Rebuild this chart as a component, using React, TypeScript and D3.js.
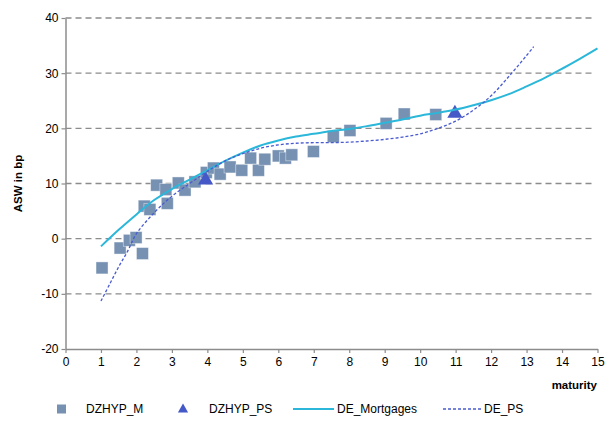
import React, {useEffect, useRef} from 'react';
import * as d3 from 'd3';

// DZHYP_M scatter (maturity, ASW in bp)
const mX = [1.03, 1.54, 1.8, 1.99, 2.17, 2.22, 2.38, 2.57, 2.83, 2.87, 3.18, 3.37, 3.65, 3.97, 4.17, 4.36, 4.64, 4.97, 5.22, 5.44, 5.62, 6.0, 6.2, 6.38, 6.99, 7.55, 8.02, 9.04, 9.55, 10.44];
const mY = [-5.3, -1.7, -0.3, 0.2, -2.7, 5.9, 5.3, 9.7, 8.9, 6.4, 10.1, 8.8, 10.3, 12.0, 12.8, 11.7, 13.0, 12.4, 14.6, 12.4, 14.4, 15.0, 14.6, 15.2, 15.8, 18.5, 19.6, 20.9, 22.6, 22.5];

// DZHYP_PS scatter
const psX = [3.95, 10.98];
const psY = [10.6, 22.7];

// DE_Mortgages curve
const mortX = [1, 1.5, 2, 2.5, 3, 3.5, 4, 4.5, 5, 5.5, 6, 6.5, 7, 7.5, 8, 8.5, 9, 9.5, 10, 10.5, 11, 11.5, 12, 12.5, 13, 13.5, 14, 14.5, 15];
const mortY = [-1.4, 1.6, 4.4, 7.0, 9.0, 10.7, 12.4, 14.1, 15.6, 16.9, 17.8, 18.5, 19.0, 19.5, 19.9, 20.4, 21.0, 21.6, 22.3, 22.8, 23.4, 24.2, 25.1, 26.2, 27.6, 29.1, 30.8, 32.6, 34.5];

// DE_PS curve
const dpsX = [1, 1.25, 1.5, 1.75, 2, 2.5, 3, 3.5, 4, 4.5, 5, 5.5, 6, 6.5, 7, 7.5, 8, 8.5, 9, 9.5, 10, 10.5, 11, 11.5, 12, 12.5, 13, 13.2];
const dpsY = [-11.3, -8.2, -5.1, -2.3, 0.9, 4.7, 7.7, 10.0, 12.2, 14.1, 15.4, 16.4, 17.0, 17.3, 17.4, 17.4, 17.5, 17.7, 18.0, 18.4, 19.0, 20.0, 21.3, 23.3, 25.9, 29.4, 33.2, 34.8];

const xTicks = d3.range(0, 16);
const yTicks = [-20, -10, 0, 10, 20, 30, 40];

const legendItems = ['DZHYP_M', 'DZHYP_PS', 'DE_Mortgages', 'DE_PS'];

const C_SQ = '#7791b2';
const C_TRI = '#4458c8';
const C_MORT = '#2bb7d9';
const C_DPS = '#4a5bd0';
const C_AXIS = '#8c8c8c';

const App: React.FC = () => {
    const svgRef = useRef<SVGSVGElement | null>(null);

    useEffect(() => {
        const svg = d3.select(svgRef.current);
        svg.selectAll('*').remove();

        const x = d3.scaleLinear().domain([0, 15]).range([65.5, 597.5]);
        const y = d3.scaleLinear().domain([-20, 40]).range([349, 18]);
        const font = 'Liberation Sans, Arial, sans-serif';

        // grid
        svg.append('g').selectAll('line')
            .data(yTicks.filter(t => t > -20))
            .enter().append('line')
            .attr('x1', x(0)).attr('x2', 594)
            .attr('y1', d => y(d)).attr('y2', d => y(d))
            .attr('stroke', C_AXIS).attr('stroke-width', 1.3)
            .attr('stroke-dasharray', '6,4');

        // axes
        const xAxis = d3.axisBottom(x).tickValues(xTicks).tickSize(4).tickSizeOuter(0).tickFormat(d => String(d));
        const gx = svg.append('g').attr('transform', `translate(0,${y(-20)})`).call(xAxis);
        const yAxis = d3.axisLeft(y).tickValues(yTicks).tickSize(4).tickSizeOuter(0).tickFormat(d => String(d));
        const gy = svg.append('g').attr('transform', `translate(${x(0)},0)`).call(yAxis);
        [gx, gy].forEach(g => {
            g.select('.domain').attr('stroke', C_AXIS).attr('stroke-width', 1.5);
            g.selectAll('.tick line').attr('stroke', C_AXIS).attr('stroke-width', 1.2);
            g.selectAll('.tick text').attr('fill', '#000').attr('font-size', 12).attr('font-family', font);
        });
        gx.selectAll('.tick text').attr('dy', '0.71em').attr('y', 8);
        gy.selectAll('.tick text').attr('x', -7);

        // axis titles
        svg.append('text')
            .attr('x', 597).attr('y', 389)
            .attr('text-anchor', 'end')
            .attr('font-family', font).attr('font-size', 11.5).attr('font-weight', 'bold')
            .text('maturity');
        svg.append('text')
            .attr('transform', `translate(22,${y(10)}) rotate(-90)`)
            .attr('text-anchor', 'middle')
            .attr('font-family', font).attr('font-size', 11.5).attr('font-weight', 'bold')
            .text('ASW in bp');

        // squares
        svg.append('g').selectAll('rect')
            .data(mX.map((v, i) => [v, mY[i]]))
            .enter().append('rect')
            .attr('x', d => x(d[0]) - 6).attr('y', d => y(d[1]) - 6)
            .attr('width', 12).attr('height', 12)
            .attr('fill', C_SQ).attr('stroke', '#ffffff').attr('stroke-opacity', 0.5).attr('stroke-width', 0.8);

        // triangles
        const tri = d3.symbol().type(d3.symbolTriangle).size(100);
        svg.append('g').selectAll('path')
            .data(psX.map((v, i) => [v, psY[i]]))
            .enter().append('path')
            .attr('d', tri)
            .attr('transform', d => `translate(${x(d[0])},${y(d[1])})`)
            .attr('fill', C_TRI);

        const line = d3.line<number[]>().x(d => x(d[0])).y(d => y(d[1])).curve(d3.curveCatmullRom);

        svg.append('path')
            .datum(mortX.map((v, i) => [v, mortY[i]]))
            .attr('d', line)
            .attr('fill', 'none').attr('stroke', C_MORT).attr('stroke-width', 2);

        svg.append('path')
            .datum(dpsX.map((v, i) => [v, dpsY[i]]))
            .attr('d', line)
            .attr('fill', 'none').attr('stroke', C_DPS).attr('stroke-width', 1.3)
            .attr('stroke-dasharray', '3,2');

        // legend
        const lg = svg.append('g').attr('transform', 'translate(0,409)');
        lg.append('rect').attr('x', 57).attr('y', -4.5).attr('width', 9).attr('height', 9).attr('fill', C_SQ);
        lg.append('path').attr('d', d3.symbol().type(d3.symbolTriangle).size(45)).attr('transform', 'translate(183,0.5)').attr('fill', C_TRI);
        lg.append('line').attr('x1', 293).attr('x2', 334).attr('y1', 0).attr('y2', 0).attr('stroke', C_MORT).attr('stroke-width', 2);
        lg.append('line').attr('x1', 443).attr('x2', 481).attr('y1', 0).attr('y2', 0).attr('stroke', C_DPS).attr('stroke-width', 1.3).attr('stroke-dasharray', '3,2');
        const textX = [86, 209, 337, 484];
        lg.selectAll('text.lg')
            .data(legendItems)
            .enter().append('text')
            .attr('class', 'lg')
            .attr('x', (d, i) => textX[i]).attr('y', 0).attr('dy', '0.35em')
            .attr('font-family', font).attr('font-size', 12)
            .text(d => d);
    }, []);

    return (
        <svg ref={svgRef} width={614} height={424} style={{position: 'absolute', left: 0, top: 0, background: '#fff'}}/>
    );
};

export default App;
